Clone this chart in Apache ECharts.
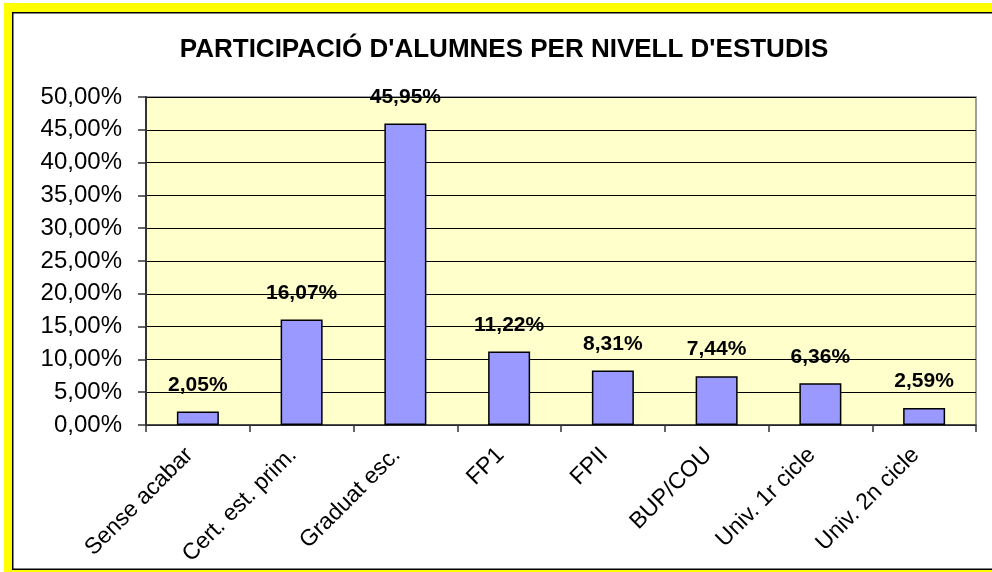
<!DOCTYPE html>
<html>
<head>
<meta charset="utf-8">
<script src="https://cdn.jsdelivr.net/npm/echarts@6/dist/echarts.min.js"></script>
<style>
  html, body { margin: 0; padding: 0; background: #ffffff; overflow: hidden; }
  #chart { position: absolute; left: 0; top: 0; width: 992px; height: 572px; }
</style>
</head>
<body>
<div id="chart"></div>
<script>
const titleText = "PARTICIPACIÓ D'ALUMNES PER NIVELL D'ESTUDIS";
const categories = ["Sense acabar", "Cert. est. prim.", "Graduat esc.", "FP1", "FPII", "BUP/COU", "Univ. 1r cicle", "Univ. 2n cicle"];
const values = [2.05, 16.07, 45.95, 11.22, 8.31, 7.44, 6.36, 2.59];
const yMin = 0, yMax = 50, yStep = 5;

function fmt(v) { return v.toFixed(2).replace('.', ',') + '%'; }

const chart = echarts.init(document.getElementById('chart'), null, { renderer: 'canvas' });
chart.setOption({
  backgroundColor: '#ffffff',
  animation: false,
  graphic: {
    elements: [
      { type: 'rect', z: -100, silent: true,
        shape: { x: 4, y: 3, width: 1000, height: 600 },
        style: { fill: '#FFFF00' } },
      { type: 'rect', z: -99, silent: true,
        shape: { x: 12.75, y: 12.75, width: 1000, height: 556.5 },
        style: { fill: '#ffffff', stroke: '#000', lineWidth: 1.5 } }
    ]
  },
  title: {
    text: titleText,
    left: 499,
    top: 32,
    textAlign: 'center',
    textStyle: { fontFamily: 'Liberation Sans, Arial, sans-serif', fontWeight: 'bold', fontSize: 26, color: '#000' }
  },
  grid: {
    left: 146, top: 97, right: 16, bottom: 147,
    show: true, backgroundColor: '#FFFFCC', borderColor: '#808080', borderWidth: 1.5
  },
  xAxis: {
    type: 'category',
    data: categories,
    axisLine: { lineStyle: { color: '#333', width: 1.5 } },
    axisTick: { show: true, length: 7, lineStyle: { color: '#333', width: 1.5 } },
    axisLabel: {
      interval: 0, rotate: 45, margin: 18, padding: [0, 12, 0, 0],
      fontFamily: 'Liberation Sans, Arial, sans-serif', fontSize: 23, color: '#000'
    }
  },
  yAxis: {
    type: 'value',
    min: yMin, max: yMax, interval: yStep,
    axisLine: { show: true, lineStyle: { color: '#333', width: 2 } },
    axisTick: { show: true, length: 8, lineStyle: { color: '#333', width: 1.5 } },
    splitLine: { show: true, lineStyle: { color: '#000', width: 1 } },
    axisLabel: {
      margin: 24, formatter: v => fmt(v),
      fontFamily: 'Liberation Sans, Arial, sans-serif', fontSize: 24, color: '#000'
    }
  },
  series: [{
    type: 'bar',
    data: values,
    barWidth: 42,
    itemStyle: { color: '#9999FF', borderColor: '#000', borderWidth: 1.5 },
    label: {
      show: true, position: 'top', distance: 16,
      formatter: p => fmt(p.value),
      fontFamily: 'Liberation Sans, Arial, sans-serif', fontWeight: 'bold', fontSize: 21, color: '#000'
    }
  }]
});
</script>
</body>
</html>
